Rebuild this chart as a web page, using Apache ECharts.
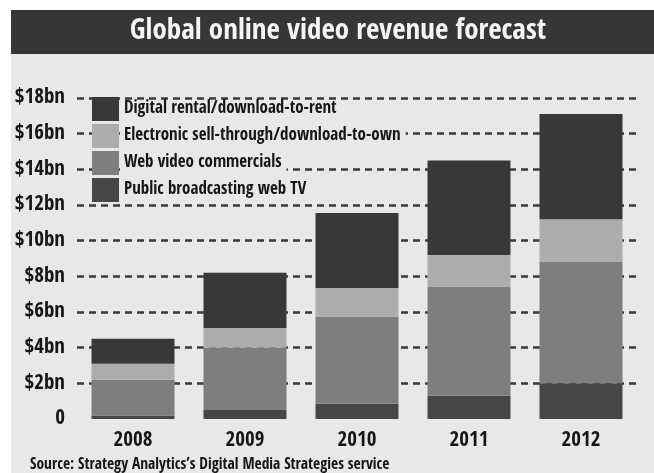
<!DOCTYPE html>
<html>
<head>
<meta charset="utf-8">
<script src="https://cdn.jsdelivr.net/npm/echarts@6/dist/echarts.min.js"></script>
<style>
  html, body { margin: 0; padding: 0; background: #ffffff; }
  #wrap { position: relative; width: 654px; height: 473px; overflow: hidden; background: #ffffff; }
  #panel { position: absolute; left: 11px; top: 54px; right: 0; bottom: 0; background: #e8e8e6; }
  #band { position: absolute; left: 11px; top: 10px; right: 0; height: 44px; background: #363636; }
  #chart { position: absolute; left: 0; top: 0; width: 654px; height: 473px; }
</style>
</head>
<body>
<div id="wrap">
  <div id="panel"></div>
  <div id="band"></div>
  <div id="chart"></div>
</div>
<script>
// Revenue by year, in $bn
const years = ['2008', '2009', '2010', '2011', '2012'];
const publicBroadcasting = [0.2, 0.5, 0.85, 1.3, 2.0];
const webCommercials = [2.0, 3.5, 4.9, 6.1, 6.8];
const sellThrough = [0.9, 1.1, 1.6, 1.8, 2.4];
const rental = [1.4, 3.1, 4.2, 5.3, 5.9];

const seriesNames = [
  'Digital rental/download-to-rent',
  'Electronic sell-through/download-to-own',
  'Web video commercials',
  'Public broadcasting web TV'
];

const FONT = '"Open Sans Condensed", "Roboto Condensed", sans-serif';
const BG = '#e8e8e6';

const chart = echarts.init(document.getElementById('chart'), null, { renderer: 'canvas' });

function stackSeries(name, data, color) {
  return {
    name: name,
    type: 'bar',
    stack: 'total',
    data: data,
    barWidth: 83,
    itemStyle: { color: color },
    emphasis: { disabled: true }
  };
}

chart.setOption({
  animation: false,
  backgroundColor: 'transparent',
  title: {
    text: 'Global online video revenue forecast',
    left: 333,
    top: 12,
    textAlign: 'center',
    textStyle: {
      color: '#f4f4f4',
      fontFamily: FONT,
      fontWeight: 'bold',
      fontSize: 29
    }
  },
  legend: {
    orient: 'vertical',
    left: 87,
    top: 92,
    itemWidth: 27,
    itemHeight: 24,
    itemGap: 3,
    icon: 'rect',
    selectedMode: false,
    data: seriesNames,
    textStyle: {
      color: '#161616',
      fontFamily: FONT,
      fontWeight: 'bold',
      fontSize: 17,
      backgroundColor: BG,
      padding: [0, 5, 0, 0]
    }
  },
  grid: { left: 77, right: 17, top: 98, bottom: 54 },
  xAxis: {
    type: 'category',
    data: years,
    axisLine: { show: false },
    axisTick: { show: false },
    axisLabel: {
      margin: 11,
      color: '#161616',
      fontFamily: FONT,
      fontWeight: 'bold',
      fontSize: 21
    }
  },
  yAxis: {
    type: 'value',
    min: 0,
    max: 18,
    interval: 2,
    axisLine: { show: false },
    axisTick: { show: false },
    axisLabel: {
      margin: 12,
      color: '#161616',
      fontFamily: FONT,
      fontWeight: 'bold',
      fontSize: 21,
      formatter: v => (v === 0 ? '0' : '$' + v + 'bn')
    },
    splitLine: {
      show: true,
      showMinLine: false,
      lineStyle: { color: '#3a3a3a', width: 2.5, type: [7, 5] }
    }
  },
  series: [
    stackSeries(seriesNames[3], publicBroadcasting, '#464646'),
    stackSeries(seriesNames[2], webCommercials, '#7e7e7e'),
    stackSeries(seriesNames[1], sellThrough, '#adadad'),
    stackSeries(seriesNames[0], rental, '#383838')
  ],
  graphic: [
    {
      type: 'text',
      left: 30,
      top: 457,
      style: {
        text: 'Source: Strategy Analytics\u2019s Digital Media Strategies service',
        fill: '#161616',
        font: 'bold 15.5px ' + FONT
      }
    }
  ]
});
</script>
</body>
</html>
